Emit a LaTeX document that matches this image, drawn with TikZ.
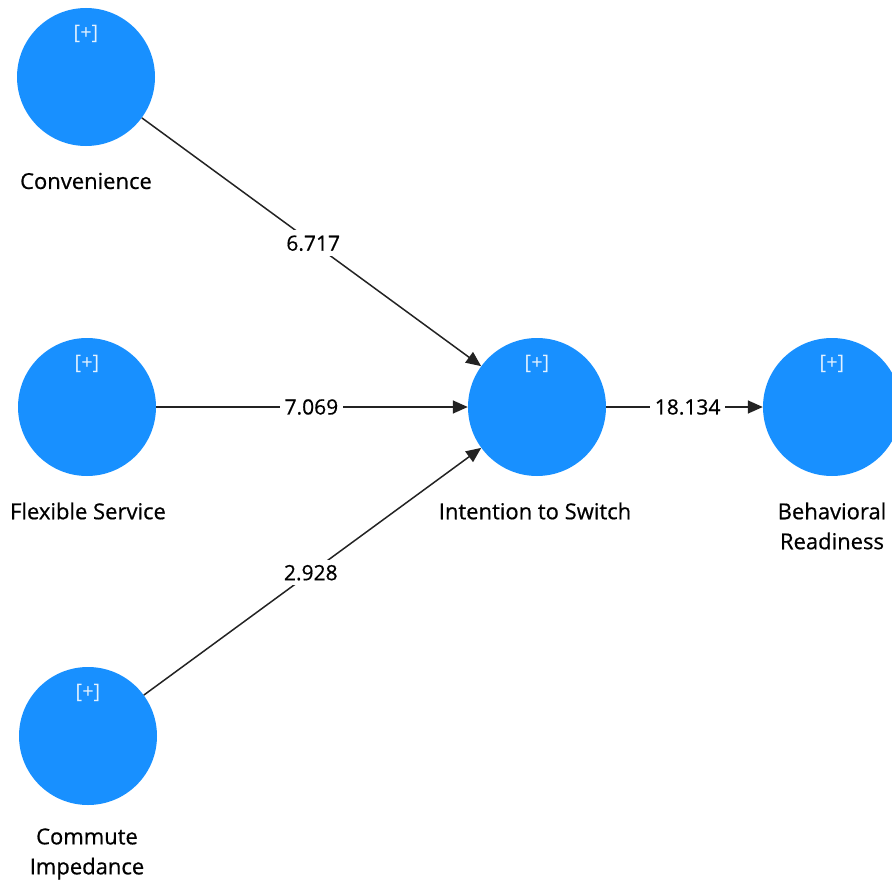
\documentclass[tikz,border=0pt]{standalone}
\usepackage{fontspec}
\setmainfont{Open Sans}
\newfontfamily\heavy{Open Sans}[FakeBold=0.6]
\usetikzlibrary{arrows.meta}
\definecolor{lvblue}{RGB}{24,144,255}
\definecolor{lvline}{RGB}{35,35,35}
\tikzset{
  lv/.style={circle, fill=lvblue, draw=none, minimum size=138pt, inner sep=0pt},
  plus/.style={text=white!88!lvblue, font=\fontsize{20}{22}\selectfont},
  lbl/.style={font=\heavy\fontsize{22}{30}\selectfont, align=center, text=black},
  path/.style={draw=lvline, line width=1.5pt, -{Triangle[length=15pt,width=13pt]}},
  coef/.style={fill=white, inner xsep=5pt, inner ysep=5pt, font=\heavy\fontsize{21}{24}\selectfont, text=black}
}
\begin{document}
\begin{tikzpicture}[x=1pt,y=-1pt]
\useasboundingbox (0,0) rectangle (892,883);
\node[lv] (conv) at (86,77) {};
\node[lv] (flex) at (87,407) {};
\node[lv] (comm) at (88,736) {};
\node[lv] (int) at (537,407) {};
\node[lv] (beh) at (832,407) {};
\node[plus] (pconv) at (86,34) {[+]};
\node[plus] (pflex) at (87,364) {[+]};
\node[plus] (pcomm) at (88,693) {[+]};
\node[plus] (pint) at (537,364) {[+]};
\node[plus] (pbeh) at (832,364) {[+]};
\node[lbl] (lconv) at (86,181) {Convenience};
\node[lbl] (lflex) at (88,511) {Flexible Service};
\node[lbl] (lcomm) at (87,854) {Commute\\Impedance};
\node[lbl] (lint) at (535,511) {Intention to Switch};
\node[lbl] (lbeh) at (832,526) {Behavioral\\Readiness};
\draw[path] (conv) -- node[coef, pos=0.505] (c1) {6.717} (int);
\draw[path] (flex) -- node[coef, pos=0.498] (c2) {7.069} (int);
\draw[path] (comm) -- node[coef, pos=0.495] (c3) {2.928} (int);
\draw[path] (int) -- node[coef, pos=0.52] (c4) {18.134} (beh);
\end{tikzpicture}
\end{document}
